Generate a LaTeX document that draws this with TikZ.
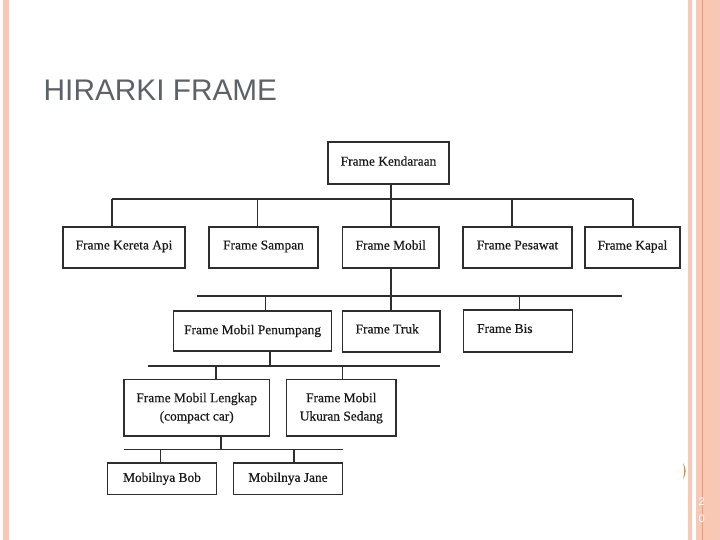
\documentclass[tikz,border=0pt]{standalone}
\usepackage{fontspec}
\setmainfont{Liberation Serif}
\newfontfamily\boxfont[FakeBold=0.5]{Liberation Serif}
\newfontfamily\titlefont{Liberation Sans}
\definecolor{salmon}{HTML}{F9C8B4}
\definecolor{salmondark}{HTML}{EE9C78}
\definecolor{titlegray}{HTML}{5D6269}
\definecolor{linecol}{HTML}{2E2E2E}
\definecolor{markorange}{HTML}{D98A45}
\begin{document}
\begin{tikzpicture}[x=1pt,y=-1pt,
  box/.style={draw=linecol, line width=1.5pt, rectangle, inner sep=0pt,
    font=\boxfont\fontsize{13.4}{18.3}\selectfont, text=black!90},
  conn/.style={draw=linecol, line width=1.5pt}]
\fill[white] (0,0) rectangle (720,540);
\useasboundingbox (0,0) rectangle (720,540);
% slide frame
\fill[salmon] (3.3,0) rectangle (9,540);
\fill[salmon] (687.7,0) rectangle (720,540);
\fill[white] (691.7,0) rectangle (696,540);
\fill[salmondark] (701.8,0) rectangle (702.9,540);
\fill[markorange] (683,463) .. controls (686.5,468) and (686.5,474) .. (683,479) .. controls (684.6,474) and (684.6,468) .. (683,463);
\node[font=\titlefont\fontsize{11}{11}\selectfont, text=white, inner sep=0pt] (p2) at (701.7,501.7) {2};
\node[font=\titlefont\fontsize{11}{11}\selectfont, text=white, inner sep=0pt] (p0) at (701.7,519) {0};
% title
\node[anchor=base west, inner sep=0pt, font=\titlefont\fontsize{29.8}{30}\selectfont, text=titlegray] (title) at (43.5,101) {HIRARKI FRAME};
% boxes
\node[box, minimum width=121pt, minimum height=42pt] (ken) at (388.5,163) {\raisebox{4pt}{Frame Kendaraan}};
\node[box, minimum width=122pt, minimum height=41pt] (kereta) at (124,247.5) {\raisebox{5pt}{Frame Kereta Api}};
\node[box, minimum width=109pt, minimum height=41pt] (sampan) at (263.5,247.5) {\raisebox{5pt}{Frame Sampan}};
\node[box, minimum width=96.5pt, minimum height=41pt] (mobil) at (390.75,247.5) {\raisebox{5pt}{Frame Mobil}};
\node[box, minimum width=109pt, minimum height=41pt] (pesawat) at (517.5,247.5) {\raisebox{5pt}{Frame Pesawat}};
\node[box, minimum width=95pt, minimum height=41pt] (kapal) at (632.5,247.5) {\raisebox{5pt}{Frame Kapal}};
\node[box, minimum width=158pt, minimum height=40pt] (pen) at (252.6,331) {\raisebox{2pt}{Frame Mobil Penumpang}};
\node[box, minimum width=97.7pt, minimum height=41pt] (truk) at (391.2,331.5) {\raisebox{5.5pt}{Frame Truk}\hspace*{8pt}};
\node[box, minimum width=109pt, minimum height=42pt] (bis) at (517.8,331) {\raisebox{5pt}{Frame Bis}\hspace*{26pt}};
\node[box, minimum width=145.3pt, minimum height=56.7pt] (lengkap) at (196.7,407.7) {\raisebox{2pt}{\begin{tabular}{@{}c@{}}Frame Mobil Lengkap\\(compact car)\end{tabular}}};
\node[box, minimum width=109.3pt, minimum height=56.7pt] (sedang) at (341.3,407.7) {\raisebox{2pt}{\begin{tabular}{@{}c@{}}Frame Mobil\\Ukuran Sedang\end{tabular}}};
\node[box, minimum width=109.4pt, minimum height=31.3pt] (bob) at (162,478.7) {Mobilnya Bob};
\node[box, minimum width=109.4pt, minimum height=31.3pt] (jane) at (288,478.7) {Mobilnya Jane};
% level 1 bus
\coordinate (b1w) at (112,199);
\coordinate (b1e) at (633,199);
\coordinate (c12) at (257.7,199);
\coordinate (c14) at (512,199);
\draw[conn] (b1w) -- (b1e);
\draw[conn] (ken.south -| mobil.north) -- (mobil.north);
\draw[conn] (b1w) -- (b1w |- kereta.north);
\draw[conn] (c12) -- (c12 |- sampan.north);
\draw[conn] (c14) -- (c14 |- pesawat.north);
\draw[conn] (b1e) -- (b1e |- kapal.north);
% level 2 bus
\coordinate (b3w) at (197,296);
\coordinate (b3e) at (622.3,296);
\coordinate (c31) at (265.7,296);
\coordinate (c33) at (519.3,296);
\draw[conn] (b3w) -- (b3e);
\draw[conn] (mobil.south) -- (mobil.south |- truk.north);
\draw[conn] (c31) -- (c31 |- pen.north);
\draw[conn] (c33) -- (c33 |- bis.north);
% level 3 bus
\coordinate (b4w) at (148.3,366);
\coordinate (b4e) at (440,366);
\coordinate (s4) at (270,366);
\coordinate (c41) at (216,366);
\coordinate (c42) at (342.3,366);
\draw[conn] (b4w) -- (b4e);
\draw[conn] (s4 |- pen.south) -- (s4);
\draw[conn] (c41) -- (c41 |- lengkap.north);
\draw[conn] (c42) -- (c42 |- sedang.north);
% level 4 bus
\coordinate (b5w) at (124,449.3);
\coordinate (b5e) at (342.7,449.3);
\coordinate (s5) at (221,449.3);
\coordinate (c51) at (160.7,449.3);
\coordinate (c52) at (294,449.3);
\draw[conn] (b5w) -- (b5e);
\draw[conn] (s5 |- lengkap.south) -- (s5);
\draw[conn] (c51) -- (c51 |- bob.north);
\draw[conn] (c52) -- (c52 |- jane.north);
\end{tikzpicture}
\end{document}
